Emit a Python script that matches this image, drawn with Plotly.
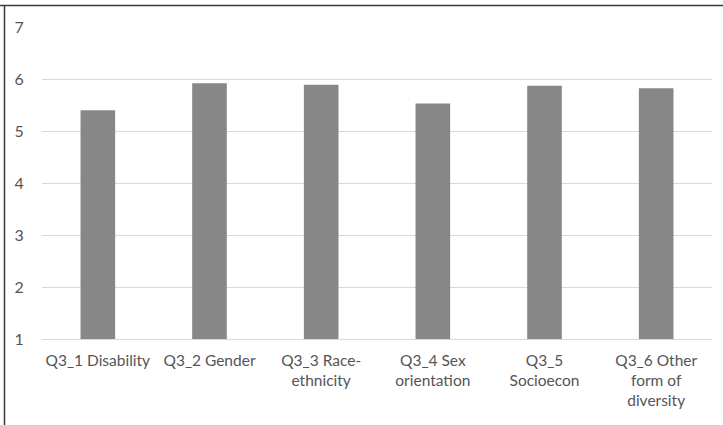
import plotly.graph_objects as go

# Mean rating per diversity item
categories = [
    "Q3_1 Disability",
    "Q3_2 Gender",
    "Q3_3 Race-<br>ethnicity",
    "Q3_4 Sex<br>orientation",
    "Q3_5<br>Socioecon",
    "Q3_6 Other<br>form of<br>diversity",
]
values = [5.40, 5.92, 5.89, 5.53, 5.87, 5.82]
y_ticks = [1, 2, 3, 4, 5, 6, 7]

text_color = "#555555"
font_family = "Lato, 'Open Sans', sans-serif"

fig = go.Figure(
    go.Bar(
        x=categories,
        y=values,
        marker=dict(color="#878787", line=dict(width=0)),
        hoverinfo="x+y",
    )
)

fig.update_layout(
    width=723,
    height=425,
    margin=dict(l=42, r=11, t=27, b=86),
    paper_bgcolor="white",
    plot_bgcolor="white",
    bargap=0.69,
    showlegend=False,
    font=dict(family=font_family, size=15.5, color=text_color),
    shapes=[
        # thin frame along the top and left edges of the page
        dict(type="line", xref="paper", yref="paper",
             x0=-42 / 670, x1=1 + 11 / 670, y0=1 + 21.5 / 312, y1=1 + 21.5 / 312,
             line=dict(color="#3a3a3a", width=1.5)),
        dict(type="line", xref="paper", yref="paper",
             x0=-37.5 / 670, x1=-37.5 / 670, y0=1 + 21.5 / 312, y1=-86 / 312,
             line=dict(color="#3a3a3a", width=1.5)),
    ],
)

fig.update_xaxes(
    showgrid=False,
    showline=True,
    linecolor="#d9d9d9",
    linewidth=1,
    ticks="outside",
    ticklen=7,
    tickcolor="rgba(0,0,0,0)",
    tickfont=dict(size=15.5, color=text_color),
    tickangle=0,
)

fig.update_yaxes(
    range=[1, 7],
    tickvals=y_ticks,
    showgrid=True,
    gridcolor="#d9d9d9",
    gridwidth=1,
    zeroline=False,
    showline=False,
    ticks="outside",
    ticklen=14,
    tickcolor="rgba(0,0,0,0)",
    tickfont=dict(size=16, color=text_color),
)

fig.write_html("out.html")
